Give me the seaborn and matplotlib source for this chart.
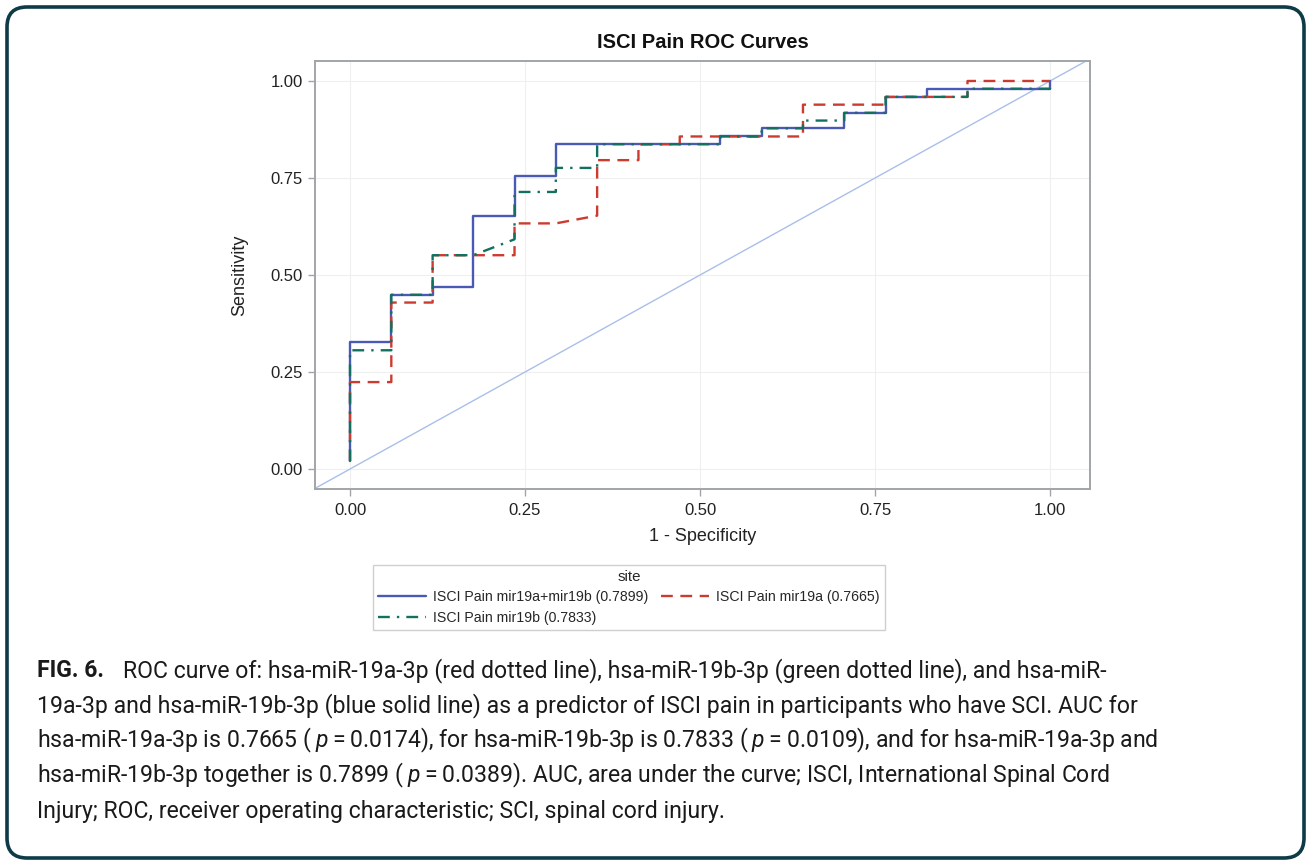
import os

os.environ.setdefault("MPLCONFIGDIR", "/tmp/matplotlib")

import matplotlib

matplotlib.use("Agg")
import matplotlib.pyplot as plt
from matplotlib.patches import FancyBboxPatch
from matplotlib.transforms import IdentityTransform
import pandas as pd
import seaborn as sns


# ROC points (1 - specificity, sensitivity)
LABEL_COMBO = "ISCI Pain mir19a+mir19b (0.7899)"
LABEL_19A = "ISCI Pain mir19a (0.7665)"
LABEL_19B = "ISCI Pain mir19b (0.7833)"

fpr_combo = [0.0, 0.0, 0.059, 0.059, 0.118, 0.118, 0.176, 0.176, 0.235, 0.235, 0.294, 0.294,
             0.529, 0.529, 0.588, 0.588, 0.706, 0.706, 0.765, 0.765, 0.824, 0.824, 1.0, 1.0]
tpr_combo = [0.020, 0.327, 0.327, 0.449, 0.449, 0.469, 0.469, 0.653, 0.653, 0.755, 0.755, 0.837,
             0.837, 0.857, 0.857, 0.878, 0.878, 0.918, 0.918, 0.959, 0.959, 0.980, 0.980, 1.0]

fpr_19a = [0.0, 0.0, 0.059, 0.059, 0.118, 0.118, 0.235, 0.235, 0.294, 0.353, 0.353, 0.412,
           0.412, 0.471, 0.471, 0.647, 0.647, 0.765, 0.765, 0.882, 0.882, 1.0]
tpr_19a = [0.020, 0.224, 0.224, 0.429, 0.429, 0.551, 0.551, 0.633, 0.633, 0.653, 0.796, 0.796,
           0.837, 0.837, 0.857, 0.857, 0.939, 0.939, 0.959, 0.959, 1.0, 1.0]

fpr_19b = [0.0, 0.0, 0.059, 0.059, 0.118, 0.118, 0.176, 0.235, 0.235, 0.294, 0.294, 0.353,
           0.353, 0.529, 0.529, 0.588, 0.588, 0.647, 0.647, 0.706, 0.706, 0.765, 0.765, 0.882,
           0.882, 1.0, 1.0]
tpr_19b = [0.020, 0.306, 0.306, 0.449, 0.449, 0.551, 0.551, 0.592, 0.714, 0.714, 0.776, 0.776,
           0.837, 0.837, 0.857, 0.857, 0.878, 0.878, 0.898, 0.898, 0.918, 0.918, 0.959, 0.959,
           0.980, 0.980, 1.0]

tick_values = [0.0, 0.25, 0.5, 0.75, 1.0]
tick_labels = ["0.00", "0.25", "0.50", "0.75", "1.00"]

caption_lines = [
    "ROC curve of: hsa-miR-19a-3p (red dotted line), hsa-miR-19b-3p (green dotted line), and hsa-miR-",
    "19a-3p and hsa-miR-19b-3p (blue solid line) as a predictor of ISCI pain in participants who have SCI. AUC for",
    "hsa-miR-19a-3p is 0.7665 (\u2009$\\mathit{p}$\u2009=\u20090.0174), for hsa-miR-19b-3p is 0.7833 (\u2009$\\mathit{p}$\u2009=\u20090.0109), and for hsa-miR-19a-3p and",
    "hsa-miR-19b-3p together is 0.7899 (\u2009$\\mathit{p}$\u2009=\u20090.0389). AUC, area under the curve; ISCI, International Spinal Cord",
    "Injury; ROC, receiver operating characteristic; SCI, spinal cord injury.",
]

W, H = 1310, 860

frames = []
for label, xs, ys in [(LABEL_COMBO, fpr_combo, tpr_combo),
                      (LABEL_19A, fpr_19a, tpr_19a),
                      (LABEL_19B, fpr_19b, tpr_19b)]:
    frames.append(pd.DataFrame({"fpr": xs, "tpr": ys, "site": label}))
roc = pd.concat(frames, ignore_index=True)

sns.set_theme(style="white")
plt.rcParams["font.family"] = ["Liberation Sans", "DejaVu Sans"]
plt.rcParams["mathtext.fontset"] = "custom"
plt.rcParams["mathtext.rm"] = "Roboto"
plt.rcParams["mathtext.it"] = "Roboto:italic"

fig = plt.figure(figsize=(W / 100, H / 100), dpi=100)
ax = fig.add_axes([315 / W, 1 - 489 / H, 775 / W, 428 / H])

palette = {LABEL_COMBO: "#4a5ab4", LABEL_19A: "#cc3b30", LABEL_19B: "#12705f"}
dashes = {LABEL_COMBO: "", LABEL_19A: (5, 3.2), LABEL_19B: (5, 3, 1, 3)}

ax.axline((0, 0), slope=1, color="#a9bfea", lw=1.0, zorder=1)
sns.lineplot(
    data=roc, x="fpr", y="tpr", hue="site", style="site",
    hue_order=[LABEL_COMBO, LABEL_19A, LABEL_19B],
    style_order=[LABEL_COMBO, LABEL_19A, LABEL_19B],
    palette=palette, dashes=dashes, sort=False, estimator=None,
    lw=1.7, ax=ax, zorder=3,
)

ax.set_xlim(-0.05, 1.057)
ax.set_ylim(-0.0515, 1.0515)
ax.set_xticks(tick_values, tick_labels)
ax.set_yticks(tick_values, tick_labels)
ax.grid(True, color="#efefef", lw=0.8)
for spine in ax.spines.values():
    spine.set_color("#a2a5a8")
    spine.set_linewidth(1.4)
ax.tick_params(direction="out", length=5, width=1, color="#a2a5a8",
               labelsize=12, labelcolor="#222222", bottom=True, left=True)
ax.tick_params(axis="x", pad=5)
ax.tick_params(axis="y", pad=4)
ax.set_xlabel("1 - Specificity", fontsize=13, labelpad=7, color="#222222")
ax.set_ylabel("Sensitivity", fontsize=13, labelpad=16, color="#222222")
ax.set_title("ISCI Pain ROC Curves", fontsize=14.5, fontweight="bold", pad=9, color="#111111")

handles, labels = ax.get_legend_handles_labels()
lookup = dict(zip(labels, handles))
order = [LABEL_COMBO, LABEL_19B, LABEL_19A]
leg = ax.legend(
    [lookup[k] for k in order], order, title="site", ncol=2,
    loc="upper center", bbox_to_anchor=(629 / W, 1 - 565 / H), bbox_transform=fig.transFigure,
    borderaxespad=0, fontsize=10.2, title_fontsize=10.8, frameon=True, fancybox=False,
    framealpha=1, edgecolor="#cfcfcf", handlelength=3.4, handletextpad=0.5,
    columnspacing=0.9, labelspacing=0.45, borderpad=0.35,
)
leg.get_frame().set_linewidth(1.0)

# caption block under the chart
base_y = 677
step_y = 35.25
cap_kw = dict(fontsize=16.6, color="#1a1a1a", family=["Roboto", "DejaVu Sans"], va="baseline")
fig.text(37 / W, 1 - base_y / H, "FIG. 6.", fontweight="bold", **cap_kw)
fig.text(123 / W, 1 - base_y / H, caption_lines[0], **cap_kw)
for i, line in enumerate(caption_lines[1:], start=1):
    fig.text(37 / W, 1 - (base_y + i * step_y) / H, line, **cap_kw)

frame = FancyBboxPatch((7, 2), 1297, 851, boxstyle="round,pad=0,rounding_size=20",
                       transform=IdentityTransform(), fill=False,
                       edgecolor="#0d3c48", linewidth=2.6)
fig.add_artist(frame)

fig.savefig("out.png", dpi=100)
